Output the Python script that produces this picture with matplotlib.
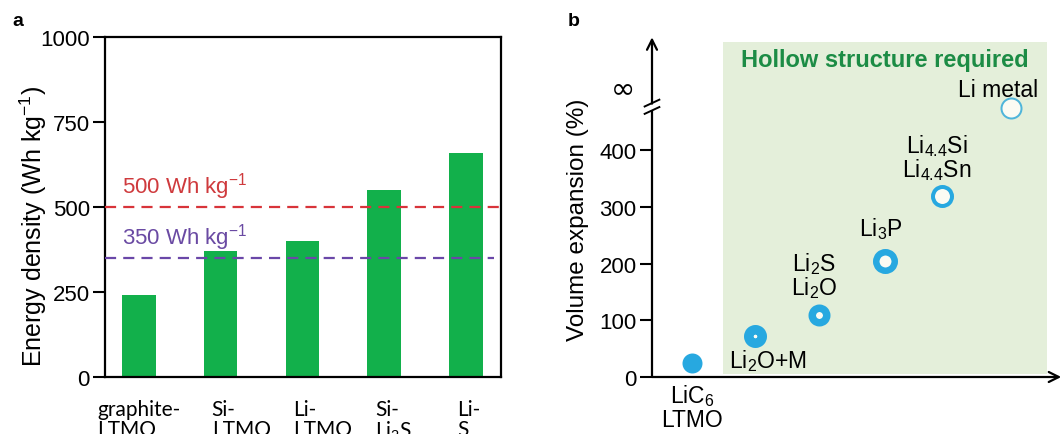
import numpy as np
import matplotlib
matplotlib.use("Agg")
import matplotlib.pyplot as plt
import matplotlib.transforms as mtransforms

plt.rcParams['font.family'] = ['Liberation Sans', 'DejaVu Sans']
plt.rcParams['mathtext.fontset'] = 'custom'
plt.rcParams['mathtext.rm'] = 'Liberation Sans'
plt.rcParams['mathtext.it'] = 'Liberation Sans:italic'
plt.rcParams['mathtext.bf'] = 'Liberation Sans:bold'

# ---------------- data: panel a ----------------
battery_labels = ["graphite-\nLTMO", "Si-\nLTMO", "Li-\nLTMO", "Si-\nLi$_{\\mathrm{2}}$S", "Li-\nS"]
energy_density = [240, 370, 400, 550, 660]
target_high = 500
target_low = 350
a_yticks = [0, 250, 500, 750, 1000]

# ---------------- data: panel b ----------------
materials = ["LiC$_{\\mathrm{6}}$\nLTMO", "Li$_{\\mathrm{2}}$O+M", "Li$_{\\mathrm{2}}$S\nLi$_{\\mathrm{2}}$O",
             "Li$_{\\mathrm{3}}$P", "Li$_{\\mathrm{4.4}}$Si\nLi$_{\\mathrm{4.4}}$Sn", "Li metal"]
material_x = [9.8, 25.2, 40.9, 57.1, 71.1, 88.0]
expansion = [25, 72, 110, 205, 320, np.inf]
b_yticks = [0, 100, 200, 300, 400]
break_value = 475
b_ymax = 596
hollow_x = (17.4, 96.8)

fig = plt.figure(figsize=(10.61, 4.35), dpi=100)
W, H = 1061, 435

# ================= panel a =================
axa = fig.add_axes([105 / W, 1 - 378 / H, 396 / W, 340 / H])
xa = np.arange(len(energy_density))
axa.bar(xa, energy_density, width=0.41, color='#12b04b', zorder=2)
axa.set_xlim(-0.415, 4.43)
axa.set_ylim(0, 1000)
axa.set_yticks(a_yticks)
axa.set_xticks([])
axa.tick_params(axis='y', length=9, width=1.5, pad=2, labelsize=16, direction='out')
for s in axa.spines.values():
    s.set_linewidth(1.6)
axa.axhline(target_high, color='#d8343a', lw=1.6, dashes=(5, 3.2), zorder=3)
axa.axhline(target_low, xmax=0.982, color='#6a47a8', lw=1.6, dashes=(5, 3.2), zorder=3)
ta = mtransforms.blended_transform_factory(axa.transAxes, axa.transData)
axa.text(0.042, target_high + 62, "500 Wh kg$^{-1}$", transform=ta,
         color='#cf3a3d', fontsize=16, va='center', ha='left')
axa.text(0.042, target_low + 62, "350 Wh kg$^{-1}$", transform=ta,
         color='#6a4aa3', fontsize=16, va='center', ha='left')
fig.text(33 / W, 1 - 226 / H, "Energy density (Wh kg$^{-1}$)", rotation=90, ha='center', va='center', fontsize=18)

# x category labels
bt = mtransforms.blended_transform_factory(axa.transData, fig.transFigure)
for i, lab in enumerate(battery_labels):
    if i == 0:
        axa.text(xa[i], 1 - 400 / H, lab, transform=bt, ha='center', va='top', multialignment='left',
                 fontsize=15, family=['Lato', 'DejaVu Sans'], linespacing=1.0)
    else:
        axa.text(xa[i] - 0.11, 1 - 400 / H, lab, transform=bt, ha='left', va='top', multialignment='left',
                 fontsize=15, family=['Lato', 'DejaVu Sans'], linespacing=1.0)

fig.text(12 / W, 1 - 22 / H, "a", fontsize=14, fontweight='bold', va='center', ha='left')

# ================= panel b =================
axb = fig.add_axes([652 / W, 1 - 378 / H, 408 / W, 338 / H])
axb.set_xlim(0, 100)
axb.set_ylim(0, b_ymax)
for s in axb.spines.values():
    s.set_visible(False)
axb.set_xticks([])
axb.set_yticks(b_yticks)
axb.tick_params(axis='y', length=9, width=1.5, pad=2, labelsize=16, direction='out')

axb.axvspan(hollow_x[0], hollow_x[1], ymin=5 / b_ymax, ymax=591 / b_ymax, color='#e4efda', lw=0, zorder=0)
axb.text(np.mean(hollow_x), 560, "Hollow structure required", ha='center', va='center',
         fontsize=17, fontweight='bold', color='#1c8c45')

# axes with arrows and break
tb = mtransforms.blended_transform_factory(axb.transAxes, axb.transData)
axb.plot([0, 0], [0, break_value - 5], color='black', lw=1.6, transform=tb, clip_on=False, solid_capstyle='butt')
axb.annotate("", xy=(0, b_ymax + 3), xytext=(0, break_value + 7), xycoords=tb, textcoords=tb,
             arrowprops=dict(arrowstyle='->', lw=1.6, color='black', mutation_scale=18, shrinkA=0, shrinkB=0))
axb.annotate("", xy=(1.003, 0), xytext=(0, 0), xycoords='axes fraction', textcoords='axes fraction',
             arrowprops=dict(arrowstyle='->', lw=1.6, color='black', mutation_scale=18, shrinkA=0, shrinkB=0))
for dy in (-5, 8):
    axb.plot([-0.018, 0.018], [break_value + dy - 6, break_value + dy + 6], color='black', lw=1.4,
             transform=tb, clip_on=False)
axb.text(-0.071, 510, "∞", transform=tb, ha='center', va='center', fontsize=21, family=['DejaVu Sans'])
fig.text(578 / W, 1 - 220 / H, "Volume expansion (%)", rotation=90, ha='center', va='center', fontsize=17.5)

# markers
blue = '#27a8e0'
outer_px = [20, 23, 22, 25, 23, 22]
hole_px = [0, 4, 7, 12, 15, 18]
edge_cols = [blue, blue, blue, blue, blue, '#4fb5da']
yvals = [break_value if np.isinf(v) else v for v in expansion]
for x, y, o, h, ec in zip(material_x, yvals, outer_px, hole_px, edge_cols):
    if h == 0:
        axb.plot(x, y, 'o', ms=o * 0.72, mfc=blue, mec=blue, mew=0, zorder=4, clip_on=False)
    else:
        ms = (o + h) / 2 * 0.72
        mew = (o - h) / 2 * 0.72
        axb.plot(x, y, 'o', ms=ms, mfc='#fbfbf3', mec=ec, mew=mew, zorder=4, clip_on=False)

# labels (offsets in pixels from marker: x, baseline y of first line)
label_offsets = [(0, -39), (13, -31), (-5, 45), (-4, 26), (-5, 43), (-13, 12)]
for lab, x, y, (dx, dy) in zip(materials, material_x, yvals, label_offsets):
    lines = lab.split("\n")
    for j, line in enumerate(lines):
        yy = dy - 24 * j
        axb.annotate(line, (x, y), xytext=(dx, yy), textcoords='offset pixels', ha='center', va='baseline',
                     fontsize=16.5, annotation_clip=False)

fig.text(568 / W, 1 - 22 / H, "b", fontsize=14, fontweight='bold', va='center', ha='left')

fig.savefig("out.png", dpi=100)
